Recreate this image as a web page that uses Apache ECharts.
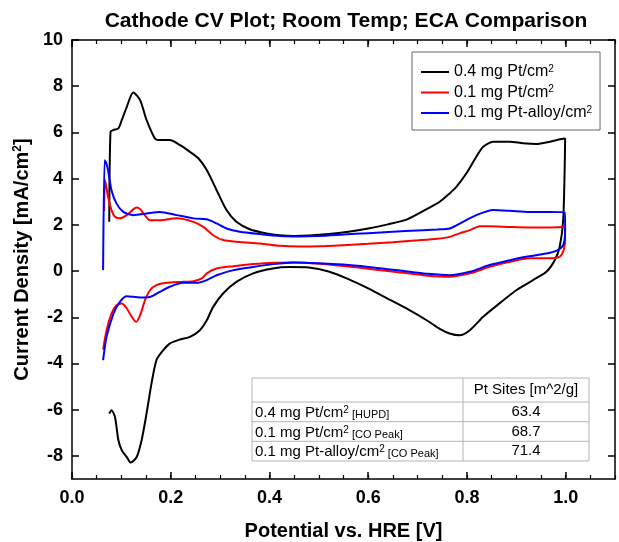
<!DOCTYPE html>
<html>
<head>
<meta charset="utf-8">
<script src="https://cdn.jsdelivr.net/npm/echarts@6/dist/echarts.min.js"></script>
<style>
  html, body { margin: 0; padding: 0; background: #ffffff; }
  #chart { width: 619px; height: 542px; }
</style>
</head>
<body>
<div id="chart"></div>
<script>
// Cyclic voltammograms of three cathodes (potential in V vs. HRE, current density in mA/cm2)
const pt04Potential = [0.0755, 0.078, 0.084, 0.094, 0.101, 0.111, 0.124, 0.138, 0.151, 0.168, 0.178, 0.198, 0.219, 0.239, 0.256, 0.273, 0.293, 0.313, 0.333, 0.360, 0.394, 0.421, 0.45, 0.48, 0.52, 0.56, 0.60, 0.64, 0.68, 0.72, 0.745, 0.765, 0.779, 0.799, 0.819, 0.833, 0.853, 0.887, 0.914, 0.941, 0.968, 0.988, 0.999,
  0.998, 0.995, 0.988, 0.978, 0.961, 0.934, 0.900, 0.866, 0.833, 0.806, 0.785, 0.765, 0.745, 0.72, 0.68, 0.64, 0.60, 0.56, 0.52, 0.48, 0.44, 0.407, 0.367, 0.333, 0.306, 0.286, 0.273, 0.259, 0.239, 0.219, 0.198, 0.182, 0.171, 0.161, 0.151, 0.141, 0.131, 0.119, 0.111, 0.101, 0.094, 0.087, 0.080, 0.0755];
const pt04Current = [2.13, 6.03, 6.10, 6.18, 6.54, 7.11, 7.73, 7.40, 6.54, 5.74, 5.67, 5.67, 5.45, 5.16, 4.88, 4.37, 3.50, 2.64, 2.13, 1.81, 1.63, 1.55, 1.52, 1.54, 1.60, 1.70, 1.84, 2.02, 2.25, 2.70, 3.00, 3.36, 3.65, 4.23, 4.95, 5.38, 5.60, 5.60, 5.53, 5.50, 5.60, 5.70, 5.74,
  4.37, 2.20, 1.05, 0.47, -0.03, -0.39, -0.83, -1.40, -1.98, -2.56, -2.78, -2.70, -2.50, -2.15, -1.65, -1.20, -0.75, -0.35, -0.02, 0.15, 0.17, 0.11, -0.10, -0.47, -0.97, -1.55, -2.13, -2.56, -2.85, -2.96, -3.14, -3.50, -3.86, -4.87, -6.17, -7.32, -8.05, -8.29, -8.05, -7.76, -7.32, -6.31, -6.02, -6.17];

const pt01Potential = [0.065, 0.067, 0.073, 0.080, 0.087, 0.097, 0.111, 0.124, 0.131, 0.138, 0.148, 0.158, 0.178, 0.212, 0.246, 0.266, 0.286, 0.306, 0.340, 0.381, 0.421, 0.46, 0.50, 0.55, 0.60, 0.65, 0.70, 0.74, 0.765, 0.785, 0.806, 0.826, 0.846, 0.887, 0.927, 0.968, 0.998,
  0.999, 0.996, 0.988, 0.968, 0.927, 0.887, 0.846, 0.806, 0.765, 0.72, 0.68, 0.64, 0.60, 0.55, 0.50, 0.45, 0.407, 0.367, 0.327, 0.293, 0.273, 0.263, 0.246, 0.219, 0.192, 0.171, 0.158, 0.148, 0.138, 0.130, 0.121, 0.111, 0.101, 0.090, 0.080, 0.070, 0.063];
const pt01Current = [2.60, 3.94, 3.21, 2.64, 2.35, 2.28, 2.42, 2.67, 2.75, 2.68, 2.40, 2.20, 2.20, 2.28, 2.13, 1.91, 1.55, 1.34, 1.26, 1.19, 1.09, 1.06, 1.07, 1.12, 1.18, 1.25, 1.33, 1.40, 1.48, 1.63, 1.77, 1.94, 1.94, 1.91, 1.89, 1.89, 1.91,
  1.34, 0.91, 0.62, 0.55, 0.55, 0.40, 0.18, -0.10, -0.25, -0.20, -0.10, 0.00, 0.10, 0.22, 0.32, 0.37, 0.36, 0.30, 0.21, 0.11, -0.10, -0.32, -0.44, -0.47, -0.51, -0.61, -0.83, -1.26, -1.91, -2.20, -1.98, -1.62, -1.40, -1.48, -1.84, -2.56, -3.40];

const alloyPotential = [0.063, 0.066, 0.069, 0.073, 0.080, 0.090, 0.104, 0.124, 0.151, 0.178, 0.212, 0.246, 0.273, 0.293, 0.313, 0.340, 0.381, 0.421, 0.46, 0.50, 0.55, 0.60, 0.65, 0.70, 0.74, 0.765, 0.792, 0.819, 0.853, 0.887, 0.927, 0.968, 0.998,
  0.999, 0.995, 0.984, 0.961, 0.920, 0.887, 0.846, 0.806, 0.765, 0.72, 0.68, 0.64, 0.60, 0.55, 0.50, 0.45, 0.407, 0.367, 0.327, 0.293, 0.273, 0.252, 0.225, 0.198, 0.178, 0.158, 0.138, 0.111, 0.097, 0.084, 0.070, 0.063];
const alloyCurrent = [0.04, 4.80, 4.70, 4.37, 3.50, 2.93, 2.56, 2.42, 2.49, 2.56, 2.42, 2.28, 2.24, 2.06, 1.84, 1.70, 1.60, 1.52, 1.50, 1.52, 1.58, 1.64, 1.70, 1.76, 1.80, 1.84, 2.13, 2.42, 2.64, 2.61, 2.56, 2.56, 2.54,
  1.77, 1.12, 0.91, 0.76, 0.62, 0.47, 0.26, -0.03, -0.18, -0.12, -0.02, 0.08, 0.18, 0.28, 0.34, 0.37, 0.30, 0.18, 0.04, -0.18, -0.39, -0.51, -0.51, -0.68, -0.90, -1.12, -1.14, -1.09, -1.33, -1.84, -2.85, -3.86];

const seriesNames = ['0.4 mg Pt/cm', '0.1 mg Pt/cm', '0.1 mg Pt-alloy/cm'];
const seriesColors = ['#000000', '#ff0000', '#0000ff'];

const xTicks = [0.0, 0.2, 0.4, 0.6, 0.8, 1.0];
const yTicks = [-8, -6, -4, -2, 0, 2, 4, 6, 8, 10];

// Active-site summary shown in the inset table
const tableHeader = 'Pt Sites [m^2/g]';
const tableLoadings = ['0.4 mg Pt/cm', '0.1 mg Pt/cm', '0.1 mg Pt-alloy/cm'];
const tableMethods = ['[HUPD]', '[CO Peak]', '[CO Peak]'];
const ptSites = [63.4, 68.7, 71.4];

const FONT = '"Liberation Sans", Arial, Helvetica, sans-serif';

function pairs(xs, ys) { return xs.map((x, i) => [x, ys[i]]); }

const curves = [
  pairs(pt04Potential, pt04Current),
  pairs(pt01Potential, pt01Current),
  pairs(alloyPotential, alloyCurrent)
];

const chart = echarts.init(document.getElementById('chart'), null, { renderer: 'canvas' });

const GRID = { left: 72, top: 40, right: 4, bottom: 63, outerBoundsMode: 'none', containLabel: false };

function xAxisDef(position, major, withLabels) {
  return {
    type: 'value', position: position, min: 0, max: 1.1,
    interval: major ? 0.2 : 0.05,
    axisLine: { show: major, onZero: false, lineStyle: { color: '#000', width: 1.5 } },
    splitLine: { show: false },
    axisTick: major
      ? { show: true, inside: true, length: 7, lineStyle: { color: '#000', width: 1.5 }, customValues: xTicks }
      : { show: true, inside: true, length: 4, lineStyle: { color: '#000', width: 1.2 } },
    axisLabel: withLabels
      ? { show: true, customValues: xTicks, formatter: v => v.toFixed(1), margin: 10,
          color: '#000', fontFamily: FONT, fontWeight: 'bold', fontSize: 18 }
      : { show: false },
    name: withLabels ? 'Potential vs. HRE [V]' : '',
    nameLocation: 'middle', nameGap: 42,
    nameTextStyle: { color: '#000', fontFamily: FONT, fontWeight: 'bold', fontSize: 20 }
  };
}

function yAxisDef(position, withLabels) {
  return {
    type: 'value', position: position, min: -9, max: 10,
    axisLine: { show: true, onZero: false, lineStyle: { color: '#000', width: 1.5 } },
    splitLine: { show: false },
    axisTick: { show: true, inside: true, length: 7, lineStyle: { color: '#000', width: 1.5 }, customValues: yTicks },
    axisLabel: withLabels
      ? { show: true, customValues: yTicks, margin: 9, color: '#000', fontFamily: FONT, fontWeight: 'bold', fontSize: 18 }
      : { show: false },
    name: withLabels ? 'Current Density [mA/cm{sup|2}]' : '',
    nameLocation: 'middle', nameGap: 33, nameRotate: 90,
    nameTextStyle: {
      color: '#000', fontFamily: FONT, fontWeight: 'bold', fontSize: 20,
      rich: { sup: { fontSize: 12, fontWeight: 'bold', fontFamily: FONT, color: '#000', verticalAlign: 'top' } }
    }
  };
}

// Inset table
const TB = { x: 252, y: 378, w: 337, h: 83, col: 463, rows: [378, 402, 421.7, 441.3, 461] };
const tableElements = [
  { type: 'rect', shape: { x: TB.x, y: TB.y, width: TB.w, height: TB.h }, style: { fill: '#fff', stroke: '#b4b4b4', lineWidth: 1 } },
  { type: 'line', shape: { x1: TB.col, y1: TB.y, x2: TB.col, y2: TB.y + TB.h }, style: { stroke: '#b4b4b4', lineWidth: 1 } }
];
for (let r = 1; r < TB.rows.length - 1; r++) {
  tableElements.push({ type: 'line', shape: { x1: TB.x, y1: TB.rows[r], x2: TB.x + TB.w, y2: TB.rows[r] }, style: { stroke: '#b4b4b4', lineWidth: 1 } });
}
const colCenter = (TB.col + TB.x + TB.w) / 2;
tableElements.push({ type: 'text', x: colCenter, y: (TB.rows[0] + TB.rows[1]) / 2,
  style: { text: tableHeader, fill: '#000', font: '15px ' + FONT, align: 'center', verticalAlign: 'middle' } });
for (let i = 0; i < ptSites.length; i++) {
  const cy = (TB.rows[i + 1] + TB.rows[i + 2]) / 2;
  tableElements.push({ type: 'text', x: TB.x + 3, y: cy + 1,
    style: {
      text: '{m|' + tableLoadings[i] + '}{s|2}{t| ' + tableMethods[i] + '}',
      align: 'left', verticalAlign: 'middle',
      rich: {
        m: { fontSize: 15, fontFamily: FONT, fill: '#000', verticalAlign: 'bottom' },
        s: { fontSize: 10, fontFamily: FONT, fill: '#000', verticalAlign: 'top' },
        t: { fontSize: 11, fontFamily: FONT, fill: '#000', verticalAlign: 'bottom' }
      }
    } });
  tableElements.push({ type: 'text', x: colCenter, y: cy,
    style: { text: ptSites[i].toFixed(1), fill: '#000', font: '15px ' + FONT, align: 'center', verticalAlign: 'middle' } });
}

const option = {
  backgroundColor: '#ffffff',
  animation: false,
  title: {
    text: 'Cathode CV Plot; Room Temp; ECA Comparison',
    left: 341, top: 6, textAlign: 'center',
    textStyle: { color: '#000', fontFamily: FONT, fontWeight: 'bold', fontSize: 21 }
  },
  legend: {
    orient: 'vertical', left: 412, top: 52,
    padding: [12, 8, 9, 9], itemGap: 4.5,
    itemWidth: 28, itemHeight: 2, icon: 'rect',
    borderColor: '#666', borderWidth: 1, backgroundColor: '#fff',
    data: seriesNames,
    formatter: name => name + '{sup|2}',
    textStyle: {
      color: '#000', fontFamily: FONT, fontSize: 16,
      rich: { sup: { fontSize: 10, fontFamily: FONT, color: '#000', verticalAlign: 'top' } }
    }
  },
  grid: GRID,
  xAxis: [
    xAxisDef('bottom', true, true),
    xAxisDef('bottom', false, false),
    xAxisDef('top', true, false),
    xAxisDef('top', false, false)
  ],
  yAxis: [
    yAxisDef('left', true),
    yAxisDef('right', false)
  ],
  series: curves.map((data, i) => ({
    name: seriesNames[i],
    type: 'line',
    xAxisIndex: 0, yAxisIndex: 0,
    data: data,
    showSymbol: false,
    smooth: 0.25,
    color: seriesColors[i],
    lineStyle: { color: seriesColors[i], width: 2 },
    z: 2 + i
  })),
  graphic: [{ type: 'group', z: 100, children: tableElements }]
};

chart.setOption(option);
</script>
</body>
</html>
